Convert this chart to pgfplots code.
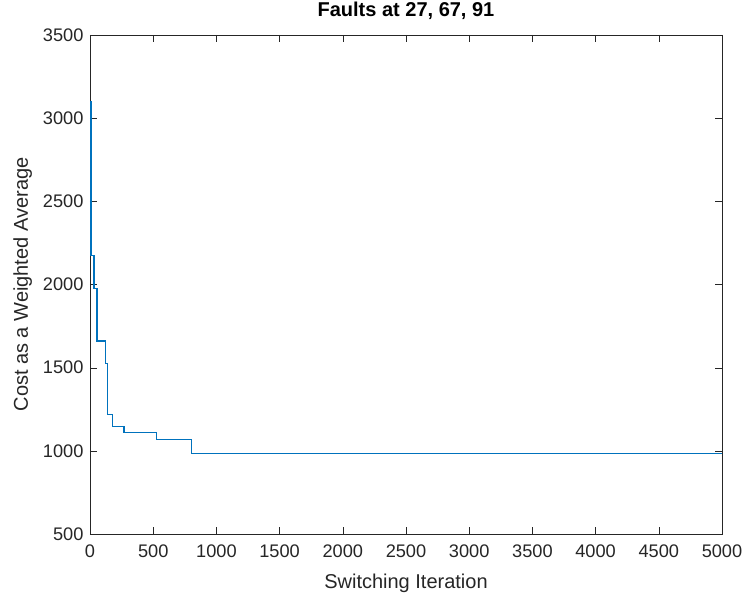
\documentclass[border=0pt]{standalone}
\usepackage{pgfplots}
\pgfplotsset{compat=1.18}
\usepackage{fontspec}
\setmainfont{Liberation Sans}
\definecolor{mblue}{rgb}{0,0.447,0.741}
\definecolor{axgray}{rgb}{0.15,0.15,0.15}
\begin{document}
\begin{tikzpicture}
\useasboundingbox (-90pt,-68pt) rectangle (658pt,534pt);
\begin{axis}[
  at={(0,0)}, anchor=south west,
  scale only axis, width=632pt, height=499pt,
  xmin=0, xmax=5000, ymin=500, ymax=3500,
  xtick={0,500,...,5000}, ytick={500,1000,...,3500},
  tick align=inside, major tick length=7pt,
  axis line style={axgray}, tick style={axgray},
  ticklabel style={font=\fontsize{18.2pt}{20pt}\selectfont, text=axgray},
  xticklabel style={yshift=-7pt},
  yticklabel style={xshift=-3pt},
  /pgf/number format/assume math mode=true,
  /pgf/number format/set thousands separator={},
  scaled ticks=false,
  xlabel={Switching Iteration}, ylabel={Cost as a Weighted Average},
  label style={font=\fontsize{20pt}{24pt}\selectfont, text=axgray},
  xlabel style={at={(rel axis cs:0.5,0)}, anchor=base, yshift=-55pt},
  ylabel style={at={(rel axis cs:0,0.5)}, anchor=base, yshift=62pt},
  title={\textbf{Faults at 27, 67, 91}},
  title style={font=\fontsize{20pt}{24pt}\selectfont, at={(rel axis cs:0.5,1)}, anchor=base, yshift=12pt},
]
\addplot[const plot, draw=mblue, no marks, line width=1.2pt] coordinates {
(1,3100) (8,2175) (32,1976) (55,1660) (121,1524) (139,1218) (176,1146) (269,1108) (524,1070) (801,982) (5000,982)
};
\end{axis}
\end{tikzpicture}
\end{document}
